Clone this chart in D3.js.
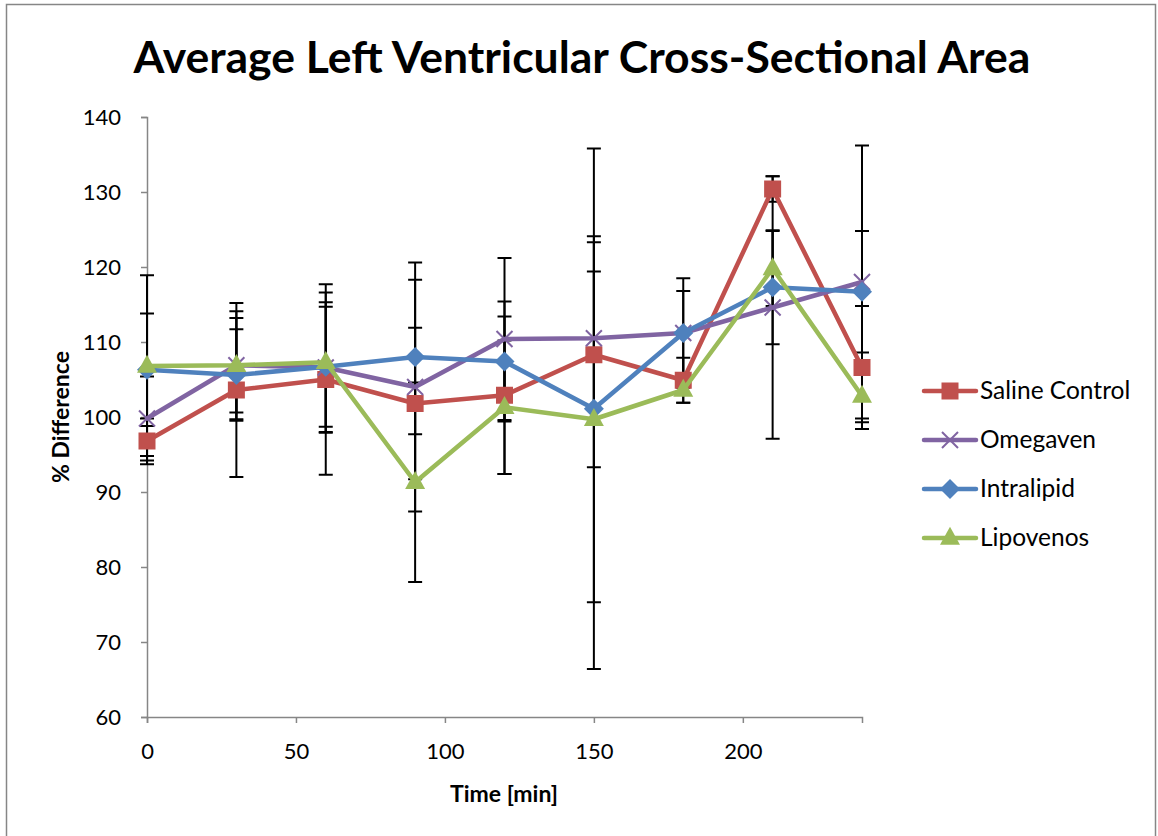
<!DOCTYPE html>
<html>
<head>
<meta charset="utf-8">
<script src="https://cdn.jsdelivr.net/npm/d3@7/dist/d3.min.js"></script>
<style>
  html, body { margin: 0; padding: 0; background: #fff; }
  svg { display: block; }
</style>
</head>
<body>
<svg id="chart" width="1158" height="836"></svg>
<script>
const times = [0, 30, 60, 90, 120, 150, 180, 210, 240];
const seriesNames = ["Saline Control", "Omegaven", "Intralipid", "Lipovenos"];
const salineValues = [96.8, 103.6, 105.0, 101.8, 102.9, 108.3, 104.9, 130.4, 106.6];
const omegavenValues = [99.8, 106.9, 106.6, 104.0, 110.4, 110.5, 111.2, 114.6, 118.0];
const intralipidValues = [106.3, 105.6, 106.7, 108.0, 107.4, 101.1, 111.2, 117.3, 116.7];
const lipovenosValues = [106.8, 106.9, 107.3, 91.3, 101.3, 99.7, 103.6, 119.8, 102.8];
const salineErrors = [2.0, 11.6, 12.7, 10.1, 10.5, 15.0, 3.0, 1.7, 8.2];
const omegavenErrors = [5.6, 7.2, 8.7, 16.6, 10.8, 8.9, 7.3, 17.5, 18.2];
const intralipidErrors = [12.6, 6.1, 8.0, 10.3, 8.0, 34.7, 5.6, 7.6, 8.1];
const lipovenosErrors = [7.0, 6.3, 9.3, 13.3, 8.9, 24.4, 1.7, 5.0, 3.5];
const yTicks = [60, 70, 80, 90, 100, 110, 120, 130, 140];
const xTicks = [0, 50, 100, 150, 200];
const titleText = "Average Left Ventricular Cross-Sectional Area";
const xTitle = "Time [min]";
const yTitle = "% Difference";

const colors = ["#C0504D", "#8064A2", "#4F81BD", "#9BBB59"];
const markers = ["square", "x", "diamond", "triangle"];
const allValues = [salineValues, omegavenValues, intralipidValues, lipovenosValues];
const allErrors = [salineErrors, omegavenErrors, intralipidErrors, lipovenosErrors];

const series = seriesNames.map((name, i) => ({
  name, color: colors[i], marker: markers[i],
  points: times.map((t, j) => ({ t, v: allValues[i][j], e: allErrors[i][j] }))
}));

const svg = d3.select("#chart");
const font = "Lato, 'Open Sans', sans-serif";

// outer border
svg.append("rect").attr("x", 6.5).attr("y", 4.5).attr("width", 1149).attr("height", 840)
  .attr("fill", "#fff").attr("stroke", "#868686").attr("stroke-width", 1.5);

const x = d3.scaleLinear().domain([0, 240]).range([147, 862]);
const y = d3.scaleLinear().domain([60, 140]).range([717, 117]);

// title
svg.append("text").attr("x", 582).attr("y", 73).attr("text-anchor", "middle")
  .attr("font-family", font).attr("font-weight", "bold").attr("font-size", 44.5)
  .attr("fill", "#000").text(titleText);

// y axis
const yAxis = svg.append("g").attr("transform", "translate(147,0)")
  .call(d3.axisLeft(y).tickValues(yTicks).tickSize(6).tickPadding(20).tickFormat(d3.format("d")));
yAxis.select(".domain").attr("stroke", "#868686").attr("stroke-width", 1.5);
yAxis.selectAll(".tick line").attr("stroke", "#868686").attr("stroke-width", 1.5);
yAxis.selectAll(".tick text").attr("font-family", font).attr("font-size", 22).attr("fill", "#000");

// x axis
const xAxis = svg.append("g").attr("transform", "translate(0,717)")
  .call(d3.axisBottom(x).tickValues(xTicks).tickSize(6).tickPadding(20).tickFormat(d3.format("d")));
xAxis.select(".domain").attr("stroke", "#868686").attr("stroke-width", 1.5);
xAxis.selectAll(".tick line").attr("stroke", "#868686").attr("stroke-width", 1.5);
xAxis.selectAll(".tick text").attr("font-family", font).attr("font-size", 22).attr("fill", "#000");

// axis titles
svg.append("text").attr("transform", "translate(69,417) rotate(-90)").attr("text-anchor", "middle")
  .attr("font-family", font).attr("font-weight", "bold").attr("font-size", 23).text(yTitle);
svg.append("text").attr("x", 504).attr("y", 802).attr("text-anchor", "middle")
  .attr("font-family", font).attr("font-weight", "bold").attr("font-size", 23).text(xTitle);

// error bars
const eb = svg.append("g");
series.forEach(s => {
  s.points.forEach(p => {
    const cx = x(p.t), y1 = y(p.v + p.e), y2 = y(p.v - p.e);
    eb.append("line").attr("x1", cx).attr("x2", cx).attr("y1", y1).attr("y2", y2)
      .attr("stroke", "#000").attr("stroke-width", 2);
    [y1, y2].forEach(yy => eb.append("line").attr("x1", cx - 7).attr("x2", cx + 7)
      .attr("y1", yy).attr("y2", yy).attr("stroke", "#000").attr("stroke-width", 2));
  });
});

function drawMarker(g, type, cx, cy, color, scale = 1) {
  if (type === "square") {
    const s = 17 * scale;
    g.append("rect").attr("x", cx - s / 2).attr("y", cy - s / 2).attr("width", s).attr("height", s)
      .attr("fill", color);
  } else if (type === "diamond") {
    const r = 10 * scale;
    g.append("path").attr("d", `M${cx},${cy - r}L${cx + r},${cy}L${cx},${cy + r}L${cx - r},${cy}Z`)
      .attr("fill", color);
  } else if (type === "triangle") {
    const w = 20 * scale, h = 18 * scale;
    g.append("path").attr("d", `M${cx},${cy - h * 0.62}L${cx + w / 2},${cy + h * 0.38}L${cx - w / 2},${cy + h * 0.38}Z`)
      .attr("fill", color);
  } else if (type === "x") {
    const r = 8 * scale;
    g.append("path").attr("d", `M${cx - r},${cy - r}L${cx + r},${cy + r}M${cx - r},${cy + r}L${cx + r},${cy - r}`)
      .attr("stroke", color).attr("stroke-width", 2).attr("fill", "none");
  }
}

const line = d3.line().x(d => x(d.t)).y(d => y(d.v));
series.forEach(s => {
  const g = svg.append("g");
  g.append("path").datum(s.points).attr("d", line).attr("fill", "none")
    .attr("stroke", s.color).attr("stroke-width", 4.5).attr("stroke-linejoin", "round").attr("stroke-linecap", "round");
  s.points.forEach(p => drawMarker(g, s.marker, x(p.t), y(p.v), s.color));
});

// legend
const legend = svg.append("g");
series.forEach((s, i) => {
  const ly = 391 + i * 49;
  legend.append("line").attr("x1", 924).attr("x2", 976).attr("y1", ly).attr("y2", ly)
    .attr("stroke", s.color).attr("stroke-width", 4.5).attr("stroke-linecap", "round");
  drawMarker(legend, s.marker, 950, ly, s.color);
  legend.append("text").attr("x", 980).attr("y", ly + 8).attr("font-family", font)
    .attr("font-size", 24.5).attr("fill", "#000").text(s.name);
});
</script>
</body>
</html>
